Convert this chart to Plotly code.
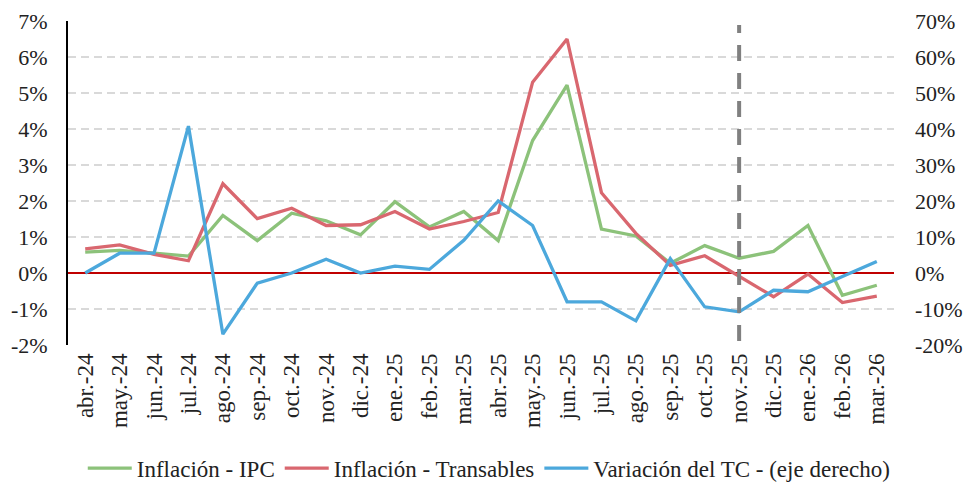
import plotly.graph_objects as go

months = ["abr.-24", "may.-24", "jun.-24", "jul.-24", "ago.-24", "sep.-24", "oct.-24", "nov.-24",
          "dic.-24", "ene.-25", "feb.-25", "mar.-25", "abr.-25", "may.-25", "jun.-25", "jul.-25",
          "ago.-25", "sep.-25", "oct.-25", "nov.-25", "dic.-25", "ene.-26", "feb.-26", "mar.-26"]

ipc = [0.58, 0.63, 0.55, 0.47, 1.60, 0.90, 1.66, 1.45, 1.06, 1.98, 1.28, 1.71,
       0.90, 3.68, 5.22, 1.22, 1.03, 0.27, 0.76, 0.41, 0.60, 1.32, -0.62, -0.34]

transables = [0.67, 0.78, 0.52, 0.34, 2.48, 1.51, 1.80, 1.32, 1.34, 1.71, 1.22, 1.43,
              1.68, 5.30, 6.50, 2.23, 1.10, 0.21, 0.48, -0.08, -0.66, -0.03, -0.82, -0.64]

tc = [0.0, 5.5, 5.5, 40.8, -17.0, -2.8, 0.0, 3.8, 0.0, 1.9, 1.0, 9.1,
      20.0, 13.2, -8.0, -8.0, -13.3, 4.0, -9.4, -10.8, -4.8, -5.2, -1.0, 3.2]

left_ticks = [-2, -1, 0, 1, 2, 3, 4, 5, 6, 7]
right_ticks = [-20, -10, 0, 10, 20, 30, 40, 50, 60, 70]
marker_month = "nov.-25"

FONT = "Liberation Serif"
FS_Y = 22
FS_X = 23
GREEN = "#8CC27A"
RED = "#D9676F"
BLUE = "#4CA8DC"
TXT = "#222222"

fig = go.Figure()
fig.add_trace(go.Scatter(x=months, y=ipc, name="Inflación - IPC", mode="lines",
                         line=dict(color=GREEN, width=3.3)))
fig.add_trace(go.Scatter(x=months, y=transables, name="Inflación - Transables", mode="lines",
                         line=dict(color=RED, width=3.3)))
fig.add_trace(go.Scatter(x=months, y=tc, name="Variación del TC - (eje derecho)", mode="lines",
                         line=dict(color=BLUE, width=3.3), yaxis="y2"))

fig.add_shape(type="line", xref="x", yref="paper", x0=marker_month, x1=marker_month,
              y0=0.012, y1=0.988, line=dict(color="#808080", width=4, dash="16px,12px"))

fig.update_layout(
    width=965, height=483,
    margin=dict(l=68, r=71, t=21, b=138, autoexpand=False),
    paper_bgcolor="white", plot_bgcolor="white",
    font=dict(family=FONT, size=FS_Y, color=TXT),
    showlegend=True,
    legend=dict(orientation="h", x=0.51, y=-0.38, xanchor="center", yanchor="middle",
                font=dict(family=FONT, size=FS_X, color=TXT),
                itemwidth=44, tracegroupgap=0),
    xaxis=dict(type="category", categoryorder="array", categoryarray=months,
               range=[-0.5, len(months) - 0.5], tickangle=-90, showgrid=False,
               showline=False, zeroline=False, ticks="", automargin=False,
               ticklabelstandoff=3,
               tickfont=dict(family=FONT, size=FS_X, color=TXT)),
    yaxis=dict(range=[-2, 7], tickvals=left_ticks,
               ticktext=[f"{v}%" for v in left_ticks],
               showgrid=True, gridcolor="#D9D9D9", griddash="8px,5px", gridwidth=1.6,
               zeroline=True, zerolinecolor="#C00000", zerolinewidth=2,
               showline=True, linecolor="black", linewidth=2,
               ticks="", ticklabelstandoff=14, automargin=False,
               tickfont=dict(family=FONT, size=FS_Y, color=TXT)),
    yaxis2=dict(range=[-20, 70], tickvals=right_ticks,
                ticktext=[f"{v}%" for v in right_ticks],
                overlaying="y", side="right", showgrid=False, zeroline=False,
                showline=False, ticks="", ticklabelstandoff=20, automargin=False,
                tickfont=dict(family=FONT, size=FS_Y, color=TXT)),
)

fig.write_html("out.html", config={"displayModeBar": False},
               post_script="document.body.style.margin='0';")
